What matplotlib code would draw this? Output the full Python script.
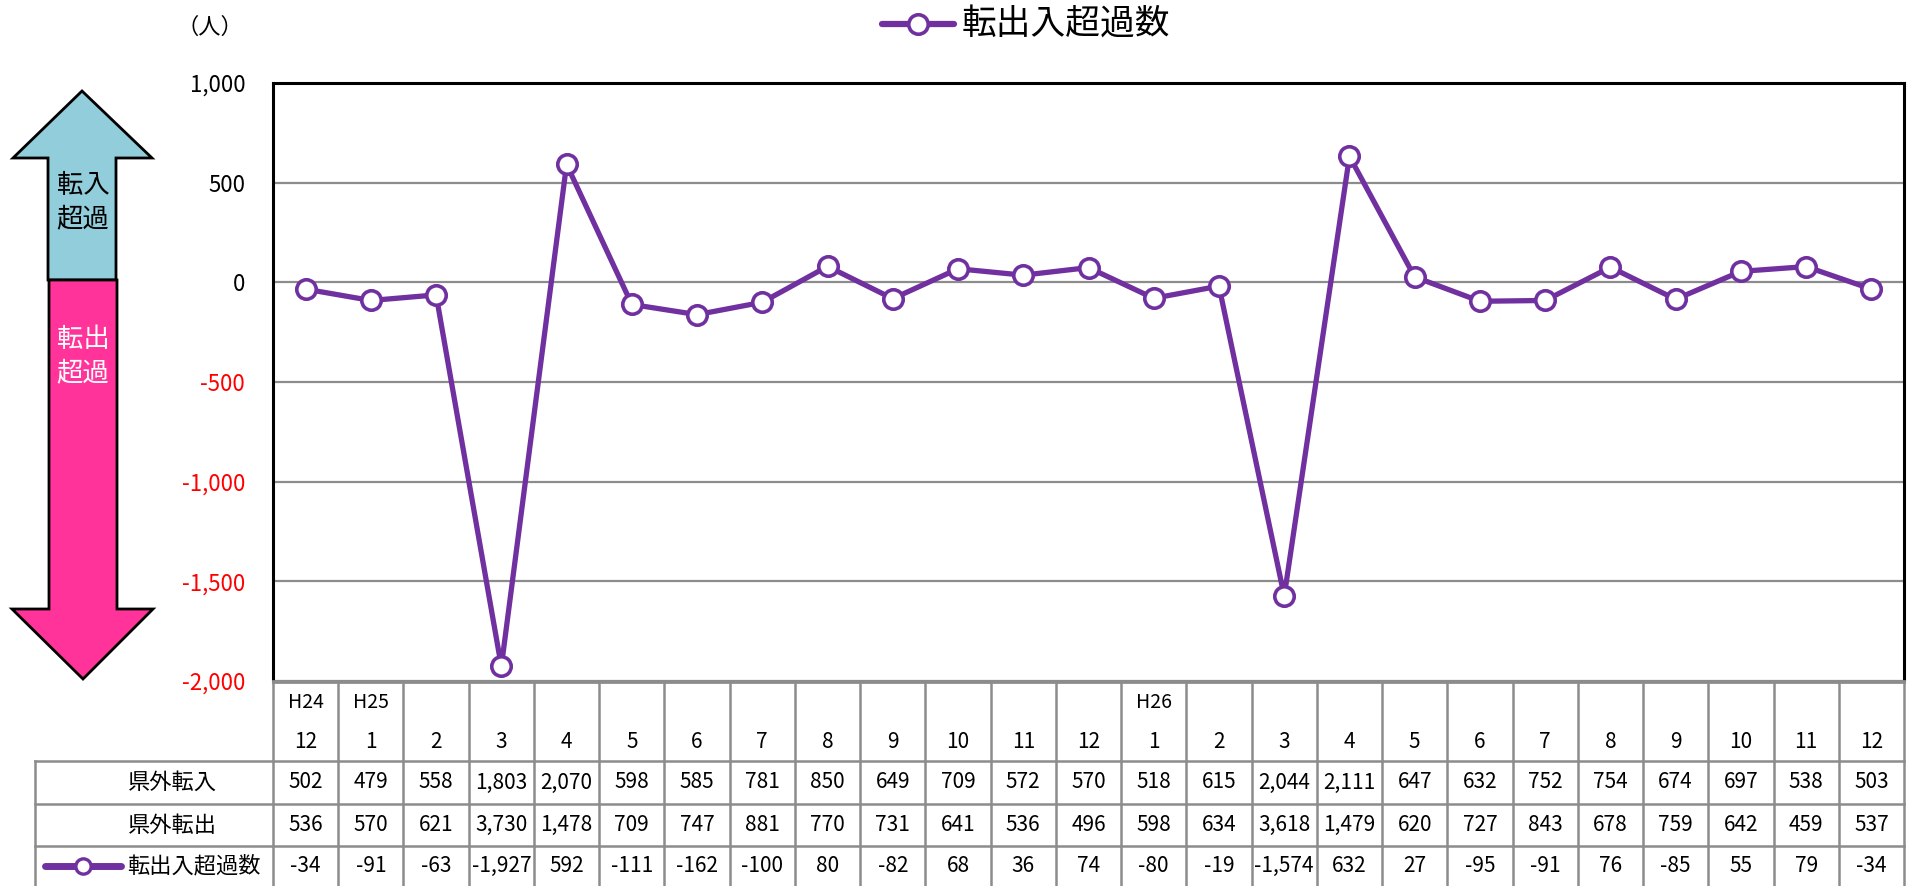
import matplotlib
matplotlib.use("Agg")
import matplotlib.pyplot as plt
import numpy as np
from matplotlib.patches import Polygon

plt.rcParams['font.family'] = ['Noto Sans CJK JP', 'DejaVu Sans']

# データ
nen = ["H24", "H25"] + [""] * 11 + ["H26"] + [""] * 11
tsuki = ["12", "1", "2", "3", "4", "5", "6", "7", "8", "9", "10", "11", "12",
         "1", "2", "3", "4", "5", "6", "7", "8", "9", "10", "11", "12"]
tennyu = [502, 479, 558, 1803, 2070, 598, 585, 781, 850, 649, 709, 572, 570,
          518, 615, 2044, 2111, 647, 632, 752, 754, 674, 697, 538, 503]
tenshutsu = [536, 570, 621, 3730, 1478, 709, 747, 881, 770, 731, 641, 536, 496,
             598, 634, 3618, 1479, 620, 727, 843, 678, 759, 642, 459, 537]
chouka = [-34, -91, -63, -1927, 592, -111, -162, -100, 80, -82, 68, 36, 74,
          -80, -19, -1574, 632, 27, -95, -91, 76, -85, 55, 79, -34]
row_labels = ["県外転入", "県外転出", "転出入超過数"]

n = len(chouka)
purple = "#7030A0"
grey = "#8C8C8C"

W, H = 1910, 886
fig = plt.figure(figsize=(W / 100, H / 100), dpi=100)

# グラフ部分（ピクセル位置）
L, R, T, B = 273, 1904, 83, 681
ax = fig.add_axes([L / W, 1 - B / H, (R - L) / W, (B - T) / H])
x = np.arange(n)
ax.plot(x, chouka, color=purple, lw=3.8, marker="o", ms=14, mfc="white",
        mec=purple, mew=2.6, zorder=3)
ax.set_xlim(-0.5, n - 0.5)
ax.set_ylim(-2000, 1000)
yt = list(range(-2000, 1001, 500))
ax.set_yticks(yt)
ax.set_yticklabels([f"{v:,}" for v in yt], fontsize=16)
for lab, v in zip(ax.get_yticklabels(), yt):
    lab.set_color("red" if v < 0 else "black")
ax.tick_params(axis="y", length=0, pad=20)
ax.set_xticks([])
ax.yaxis.grid(True, color=grey, lw=1.6)
ax.set_axisbelow(True)
for s in ["left", "top", "right"]:
    ax.spines[s].set_linewidth(2.2)
    ax.spines[s].set_color("black")
ax.spines["bottom"].set_color(grey)
ax.spines["bottom"].set_linewidth(2)

# 全体用の重ね合わせ軸（ピクセル座標）
ov = fig.add_axes([0, 0, 1, 1], zorder=5)
ov.set_xlim(0, W)
ov.set_ylim(H, 0)
ov.axis("off")

# 矢印
up = Polygon([(82, 91), (152, 158), (116, 158), (116, 280), (48, 280), (48, 158), (13, 158)],
             closed=True, fc="#92CDDC", ec="black", lw=2)
down = Polygon([(49, 280), (117, 280), (117, 609), (153, 609), (83, 679), (12, 609), (49, 609)],
               closed=True, fc="#FF3399", ec="black", lw=2)
ov.add_patch(up)
ov.add_patch(down)
ov.text(83, 202, "転入\n超過", ha="center", va="center", fontsize=19, color="black", linespacing=1.3)
ov.text(83, 356, "転出\n超過", ha="center", va="center", fontsize=19, color="white", linespacing=1.3)
ov.text(210, 27, "（人）", ha="center", va="center", fontsize=16)

# 凡例
ov.plot([882, 954], [24, 24], color=purple, lw=4.5, solid_capstyle="round")
ov.plot([918], [24], marker="o", ms=14, mfc="white", mec=purple, mew=2.6)
ov.text(962, 24, "転出入超過数", ha="left", va="center", fontsize=25)

# データテーブル
cw = (R - L) / n
yH1, yH2 = 702, 742
rows = [682, 761, 804, 846, 886]
for i in range(n + 1):
    ov.plot([L + i * cw] * 2, [rows[0], H], color=grey, lw=1.8)
ov.plot([35, 35], [rows[1], H], color=grey, lw=1.8)
ov.plot([L, R], [rows[0], rows[0]], color=grey, lw=2)
for yy in rows[1:4]:
    ov.plot([35, R], [yy, yy], color=grey, lw=1.8)

for i in range(n):
    cx = L + (i + 0.5) * cw
    if nen[i]:
        ov.text(cx, yH1, nen[i], ha="center", va="center", fontsize=14)
    ov.text(cx, yH2, tsuki[i], ha="center", va="center", fontsize=15)
    for r, vals in enumerate([tennyu, tenshutsu, chouka]):
        yc = (rows[r + 1] + rows[r + 2]) / 2
        ov.text(cx, yc, f"{vals[i]:,}", ha="center", va="center", fontsize=15)

ov.text(172, (rows[1] + rows[2]) / 2, row_labels[0], ha="center", va="center", fontsize=16)
ov.text(172, (rows[2] + rows[3]) / 2, row_labels[1], ha="center", va="center", fontsize=16)
yc = (rows[3] + rows[4]) / 2
ov.plot([45, 121], [yc, yc], color=purple, lw=5, solid_capstyle="round")
ov.plot([83], [yc], marker="o", ms=11, mfc="white", mec=purple, mew=2.4)
ov.text(127, yc, row_labels[2], ha="left", va="center", fontsize=16)

fig.savefig("out.png", dpi=100)
